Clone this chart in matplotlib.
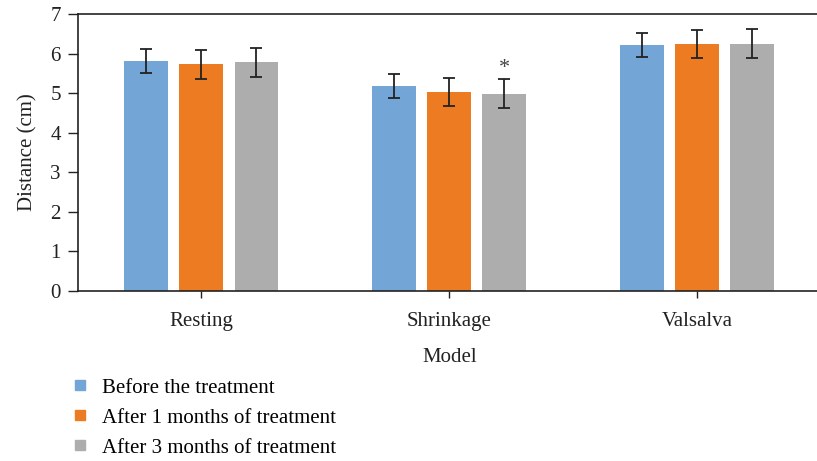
import matplotlib
matplotlib.use("Agg")
import matplotlib.pyplot as plt
from matplotlib.lines import Line2D
import numpy as np

categories = ["Resting", "Shrinkage", "Valsalva"]
series_names = ["Before the treatment", "After 1 months of treatment", "After 3 months of treatment"]
before = [5.82, 5.18, 6.22]
before_err = [0.30, 0.31, 0.30]
after1 = [5.73, 5.03, 6.24]
after1_err = [0.36, 0.35, 0.35]
after3 = [5.78, 4.99, 6.25]
after3_err = [0.37, 0.37, 0.37]
colors = ["#73A5D6", "#ED7B22", "#ADADAD"]

plt.rcParams['font.family'] = ['Liberation Serif', 'DejaVu Serif']

fig = plt.figure(figsize=(8.17, 4.61), dpi=100)
W, H = 817, 461
left, right, top, bottom = 77.5, 821, 14, 291
ax = fig.add_axes([left / W, 1 - bottom / H, (right - left) / W, (bottom - top) / H])

x = np.arange(len(categories))
offset = 0.222
width = 0.177
values = [before, after1, after3]
errs = [before_err, after1_err, after3_err]
for i, (v, e, c) in enumerate(zip(values, errs, colors)):
    ax.bar(x + (i - 1) * offset, v, width, color=c, yerr=e,
           error_kw=dict(ecolor="#222222", elinewidth=1.3, capsize=4.5, capthick=1.3),
           zorder=2)

# significance marker
ax.text(x[1] + offset, 5.63, "*", ha="center", va="center", fontsize=16, color="#444444")

fs = 15
ax.set_xlim(-0.5, 2.5)
ax.set_ylim(0, 7)
ax.set_yticks(range(0, 8))
ax.set_xticks(x)
ax.set_xticklabels(categories)
ax.spines['right'].set_visible(False)
for s in ['left', 'bottom', 'top']:
    ax.spines[s].set_linewidth(1.2)
    ax.spines[s].set_color("#222222")
ax.tick_params(axis='y', direction='out', length=7, width=1.0, labelsize=fs, pad=5, colors="#222222")
ax.tick_params(axis='x', direction='out', length=5, width=1.0, labelsize=fs, pad=10, colors="#222222")
ax.set_ylabel("Distance (cm)", fontsize=fs, labelpad=9, color="#222222")
ax.set_xlabel("Model", fontsize=fs, labelpad=12, color="#222222")

handles = [Line2D([0], [0], marker='s', linestyle='none', markersize=7.5,
                  markerfacecolor=c, markeredgecolor=c) for c in colors]
fig.legend(handles, series_names, loc='upper left', bbox_to_anchor=(70 / W, 1 - 378 / H),
           frameon=False, fontsize=fs, handlelength=1.0, handletextpad=0.55,
           labelspacing=0.5, borderaxespad=0, borderpad=0)

fig.savefig("out.png", dpi=100)
